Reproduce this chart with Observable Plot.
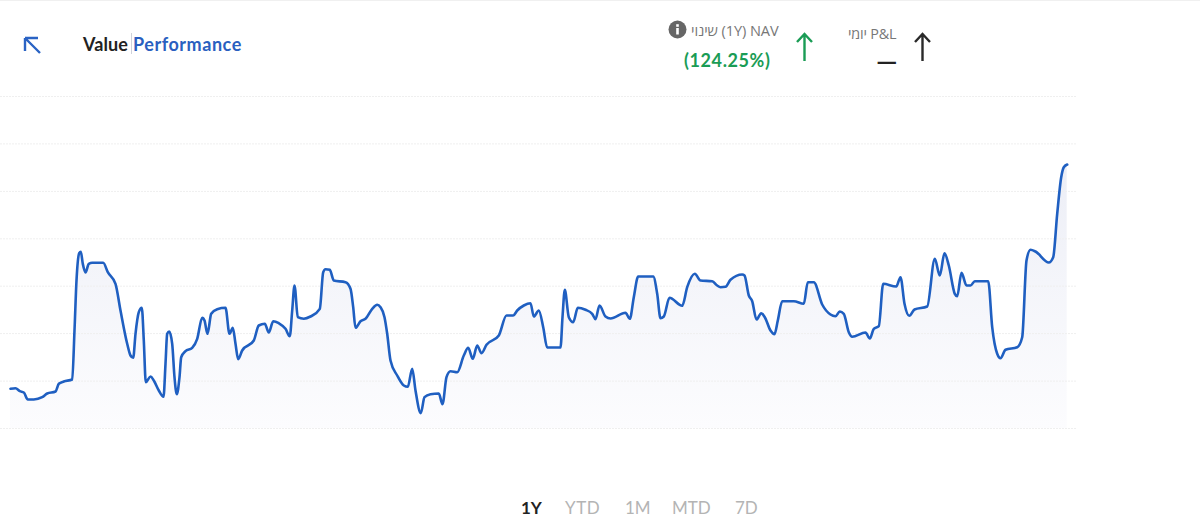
<!DOCTYPE html>
<html><head><meta charset="utf-8">
<script src="https://cdn.jsdelivr.net/npm/d3@7"></script>
<script src="https://cdn.jsdelivr.net/npm/@observablehq/plot@0.6"></script>
<style>
html,body{margin:0;padding:0;background:#fff;overflow:hidden}
body{width:1200px;height:526px;position:relative;font-family:Lato,"Open Sans","Noto Sans",sans-serif}
#chart{position:absolute;left:0;top:0}
.t{position:absolute;white-space:nowrap;line-height:1}
svg.i{position:absolute;overflow:visible}
</style></head><body>
<div id="chart"></div>
<div style="position:absolute;left:0;top:0;width:1200px;height:1px;background:#f0f0f0"></div>
<svg class="i" style="left:24px;top:37px" width="18" height="18"><path d="M1 1H14M1 1V14M1 1L16 16" fill="none" stroke="#2a63c4" stroke-width="2.4"/></svg>
<div class="t" style="left:83px;top:35px;font-size:18px;font-weight:700;color:#222;letter-spacing:.1px">Value</div>
<div style="position:absolute;left:131px;top:33px;width:1px;height:21px;background:#cfd2da"></div>
<div class="t" style="left:133px;top:35px;font-size:18px;font-weight:700;color:#2a5fc0;letter-spacing:.55px">Performance</div>
<svg class="i" style="left:668px;top:20px" width="19" height="19"><circle cx="9.5" cy="9.5" r="9" fill="#666"/><rect x="8.2" y="8" width="2.6" height="6.5" fill="#fff"/><rect x="8.2" y="4.2" width="2.6" height="2.6" fill="#fff"/></svg>
<div class="t" dir="ltr" style="left:691px;top:23px;font-size:14.6px;color:#777;font-family:'Open Sans',sans-serif;letter-spacing:-.1px"><span dir="rtl">שינוי</span> (1Y) NAV</div>
<div class="t" style="left:684px;top:51px;font-size:18px;font-weight:700;color:#1a9c55;letter-spacing:.6px">(124.25%)</div>
<svg class="i" style="left:795px;top:32px" width="20" height="30"><path d="M9.5 29V2M2 10L9.5 2L17 10" fill="none" stroke="#1a9c55" stroke-width="2.4"/></svg>
<div class="t" style="left:848px;top:27px;font-size:14.4px;color:#777;font-family:'Open Sans',sans-serif;letter-spacing:-.2px"><span dir="rtl">יומי</span> P&amp;L</div>
<div class="t" style="left:876px;top:47px;font-size:27px;font-weight:700;color:#222">—</div>
<svg class="i" style="left:913px;top:32px" width="20" height="30"><path d="M9.5 29V2M2 10L9.5 2L17 10" fill="none" stroke="#2a2a2a" stroke-width="2.4"/></svg>
<div class="t" style="left:521px;top:499px;font-size:17px;font-weight:700;color:#222">1Y</div>
<div class="t" style="left:565px;top:499px;font-size:17px;color:#b4b4b4;letter-spacing:.6px">YTD</div>
<div class="t" style="left:625px;top:499px;font-size:17px;color:#b4b4b4">1M</div>
<div class="t" style="left:672px;top:499px;font-size:17px;color:#b4b4b4">MTD</div>
<div class="t" style="left:735px;top:499px;font-size:17px;color:#b4b4b4">7D</div>
<script>
const gridTicks = [0, 47.4, 94.9, 142.3, 189.7, 237.1, 284.6, 332];
const positions = [10,15,19.3,23.3,27.3,33.3,41.7,46.7,55,58.3,63.3,71.7,74,76,78.7,80.3,82.3,85,88.3,91.7,102.7,107.3,115,120,126.7,130,132.7,135,138.3,141.3,143.3,145.3,150,153.3,158.3,163,165,166.7,168.7,171.7,174,176.3,179,180.7,185,191.7,196.7,201.7,204,207,210.7,216.7,225,229,232.3,235,237.7,241.7,253.3,258.3,264.3,268.3,272.7,278.3,285,289.3,291.7,294,297.3,303.3,310,319.3,322.7,325,329.3,333.3,345,350,352.7,355,360,365,371.7,376.7,380,384,386.7,390,396.7,403.3,407.3,411.7,415,420.3,424,430,438.3,442,446,450,456.7,463.3,467.7,472.3,476.7,481,486,498.3,506,512.7,516.7,523.3,530,533.3,538.3,542.7,546.7,560,562,564.3,568.3,572.7,577.3,585,591.7,595,599,605,610,625,629.3,633.3,637.7,652.7,656.7,660,663.3,669,681.7,686.7,694.3,700,711.7,716.7,720,725,730,741.7,744,748.3,751.7,756,760.7,764.3,770,774,777.3,781.7,793.3,803.3,807.3,813.3,821.7,830,835,839.3,843.3,848.3,851.7,865,869.3,873.3,878.3,882.7,895.7,900,904,908.7,914,926.7,934.3,939.3,944,948.3,954.3,956.7,961,966,970,974.3,987.7,991.7,996.7,1000,1005,1016.7,1021.7,1026,1030,1035,1048.3,1052.7,1056.7,1060.7,1063.3,1066.7];
const values = [39.7,40.3,37.3,36,29,29,31.3,35,37,44.7,47,49,98,148,175.3,176.7,164.7,156,164.7,165.7,165.7,156.3,144.7,118,84.7,73,70.7,94.7,116.3,120.7,88,46.3,52,48,38,31.7,64.7,94.7,97,84.7,51.3,34.3,51.3,71.3,77.3,80.7,89.7,110.7,108,94.7,114.7,119.3,120.7,94.7,100.7,84.7,69.3,78,88,103,104.7,96,107.3,105.3,99.7,92.3,118,143,111.3,109.7,112,119.7,156.3,159.3,158.7,148,146.3,139.7,121.3,100.7,107.3,109.7,119.7,123.7,121.3,111.3,94.7,68,53,43,41.7,59.7,38,15.3,31.3,34.3,35,24.3,51.3,57.3,56.3,73,80.7,69.7,83,75.3,83.7,93,113,113,118,123,125.3,112,118,101.3,81,81,111.3,138.7,111.3,106.3,120.7,118.7,114.7,109.3,123,112,110,115.7,109.7,131.3,152,152,134.7,110.3,112,130.7,122.7,141.3,154.7,148,147.3,143,141.3,141.7,148.7,154,153,133,127.3,109,115.3,111.3,98,94.3,108,127.3,127.3,124.7,146.3,146.3,124,114,112.3,117,114.7,96.3,91.7,96,90,99.7,102.3,144.7,142,151.3,124.7,112.7,119,122,169.7,153,175.3,163,134.7,132.3,155.7,143,143,147.3,147.3,101.3,74.7,70.3,78.7,81.3,91.3,168,178.7,177,166,171.3,214.7,251.3,261.3,264];

const gradientDefs = () => {
  const ns = "http://www.w3.org/2000/svg";
  const defs = document.createElementNS(ns, "defs");
  defs.innerHTML = `<linearGradient id="areaFill" x1="0" y1="0" x2="0" y2="1">
    <stop offset="0" stop-color="#eceef6"/><stop offset="0.45" stop-color="#f4f5fa"/><stop offset="1" stop-color="#fcfcfe"/></linearGradient>`;
  return defs;
};

const chart = Plot.plot({
  width: 1200, height: 526,
  marginTop: 96, marginBottom: 98, marginLeft: 0, marginRight: 124,
  x: {domain: [0, 1076], axis: null},
  y: {domain: [0, 332], axis: null},
  style: {background: "transparent", overflow: "visible"},
  marks: [
    gradientDefs,
    Plot.areaY(positions, {x: d => d, y: (d, i) => values[i], curve: "monotone-x", fill: "url(#areaFill)"}),
    Plot.ruleY(gridTicks, {stroke: "#efefef", strokeWidth: 1, strokeDasharray: "2 1"}),
    Plot.lineY(positions, {x: d => d, y: (d, i) => values[i], curve: "monotone-x", stroke: "#1f5fc1", strokeWidth: 2.6})
  ]
});
document.getElementById("chart").append(chart);
</script>
</body></html>
